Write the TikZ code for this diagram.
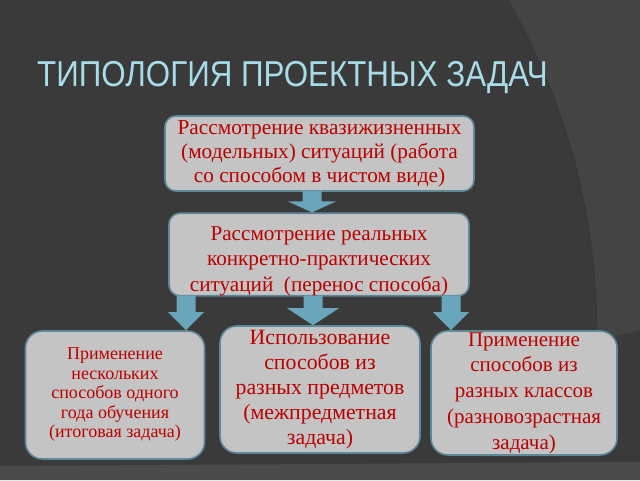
\documentclass[tikz,border=0pt]{standalone}
\usepackage{fontspec}
\usepackage{graphicx}
\setmainfont{Liberation Serif}
\newfontfamily\titlefont{Liberation Sans}
\usetikzlibrary{calc}

\definecolor{bgdark}{HTML}{3A3A3A}
\definecolor{bglight}{HTML}{444444}
\definecolor{bgband}{HTML}{4B4B4B}
\definecolor{boxfill}{HTML}{C4C4C4}
\definecolor{boxline}{HTML}{5E8A97}
\definecolor{boxtext}{HTML}{BC0000}
\definecolor{arrfill}{HTML}{6AA6BB}
\definecolor{titlecol}{HTML}{A8DCE8}

\tikzset{
  typbox/.style={draw=boxline,line width=1.6pt,fill=boxfill,rounded corners=11pt,
    text=boxtext,align=center,inner sep=0pt},
  arrblk/.style={fill=arrfill}
}

% block arrow: x position, head half width, head length, from node, to node
\newcommand\blockarr[5]{%
  \coordinate (ba) at (#1,0);
  \fill[arrblk] ($(ba |- #4.south)+(-9.5,-1)$) -- ($(ba |- #5.north)+(-9.5,-#3)$)
    -- ($(ba |- #5.north)+(-#2,-#3)$) -- (ba |- #5.north)
    -- ($(ba |- #5.north)+(#2,-#3)$) -- ($(ba |- #5.north)+(9.5,-#3)$)
    -- ($(ba |- #4.south)+(9.5,-1)$) -- cycle;}

\begin{document}
\begin{tikzpicture}[x=1pt,y=-1pt]
\useasboundingbox (0,0) rectangle (640,480);
% background
\fill[bgdark] (0,0) rectangle (640,480);
\fill[bglight] (508,0) .. controls (570,110) and (597,220) .. (597,340) -- (640,330) -- (640,0) -- cycle;
\draw[black!80,line width=0.6pt] (508,0) .. controls (570,110) and (597,220) .. (597,340);
\fill[bgband] (0,466) -- (640,462) -- (640,480) -- (0,480) -- cycle;

% title
\node[text=titlecol,anchor=base west,inner sep=0pt] (title) at (37,86)
  {\titlefont\fontsize{36}{36}\selectfont\scalebox{0.87}[1]{ТИПОЛОГИЯ ПРОЕКТНЫХ ЗАДАЧ}};

% boxes
\node[typbox,minimum width=309pt,minimum height=75pt,
  font=\fontsize{21.3}{24}\selectfont] (quasi) at (319.5,153.5)
  {Рассмотрение квазижизненных\\(модельных) ситуаций (работа\\со способом в чистом виде)};
\node[typbox,minimum width=300pt,minimum height=81pt,
  font=\fontsize{21.2}{25.5}\selectfont] (real) at (319,254.5)
  {\rule{0pt}{27pt}Рассмотрение реальных\\конкретно-практических\\ситуаций~ (перенос способа)};
\node[typbox,rounded corners=17pt,minimum width=179pt,minimum height=128pt,
  font=\fontsize{18}{19.5}\selectfont] (year) at (115,395)
  {Применение\\нескольких\\способов одного\\года обучения\\(итоговая задача)};
\node[typbox,rounded corners=17pt,minimum width=200pt,minimum height=127pt,
  font=\fontsize{21.8}{25}\selectfont] (subj) at (320,389.5)
  {Использование\\способов из\\разных предметов\\(межпредметная\\задача)};
\node[typbox,rounded corners=17pt,minimum width=186pt,minimum height=124pt,
  font=\fontsize{21}{25.8}\selectfont] (class) at (524,393)
  {Применение\\способов из\\разных классов\\(разновозрастная\\задача)};

% arrows
\blockarr{312}{24}{11}{quasi}{real}
\blockarr{186}{18}{18}{real}{year}
\blockarr{313}{26}{17}{real}{subj}
\blockarr{451}{18}{18}{real}{class}
\end{tikzpicture}
\end{document}
